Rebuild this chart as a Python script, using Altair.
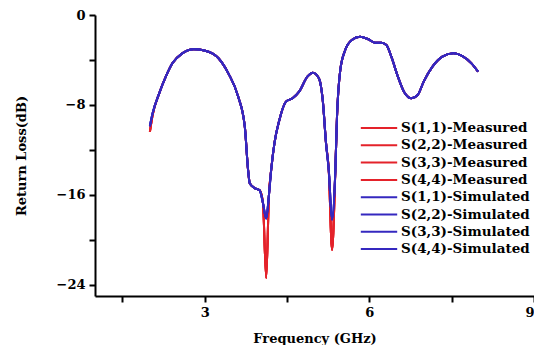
import altair as alt
import pandas as pd

# Frequency samples (GHz)
freq = [2.00, 2.05, 2.17, 2.29, 2.41, 2.59, 2.80, 3.01, 3.25, 3.43, 3.61, 3.73,
        3.79, 3.82, 3.91, 4.00, 4.06, 4.12, 4.17, 4.21, 4.27, 4.36, 4.48, 4.60,
        4.72, 4.87, 4.97, 5.08, 5.15, 5.21, 5.26, 5.32, 5.38, 5.41, 5.47, 5.56,
        5.68, 5.83, 5.98, 6.10, 6.22, 6.31, 6.40, 6.52, 6.63, 6.77, 6.88, 6.99,
        7.15, 7.33, 7.53, 7.71, 7.86, 7.98]

# Simulated return loss (dB)
sim_db = [-9.9, -8.75, -6.97, -5.49, -4.30, -3.41, -3.05, -3.18, -3.85, -5.19, -7.27, -9.94,
          -13.8, -14.97, -15.4, -15.6, -16.7, -18.1, -16.0, -13.8, -11.4, -9.34, -7.71, -7.41,
          -6.82, -5.49, -5.13, -5.63, -7.56, -11.4, -13.8, -18.2, -13.8, -9.05, -4.89, -3.11,
          -2.22, -1.93, -2.16, -2.46, -2.46, -2.67, -3.71, -5.49, -6.82, -7.41, -7.12, -5.93,
          -4.60, -3.71, -3.41, -3.71, -4.30, -5.04]

# Measured return loss (dB)
meas_db = [-10.4, -8.9, -6.97, -5.49, -4.30, -3.41, -3.05, -3.18, -3.85, -5.19, -7.27, -9.94,
           -13.8, -14.97, -15.4, -15.6, -16.7, -23.4, -16.0, -13.8, -11.4, -9.34, -7.71, -7.41,
           -6.82, -5.49, -5.13, -5.63, -7.56, -11.4, -13.8, -20.9, -13.8, -9.05, -4.89, -3.11,
           -2.22, -1.93, -2.16, -2.46, -2.46, -2.67, -3.71, -5.49, -6.82, -7.41, -7.12, -5.93,
           -4.60, -3.71, -3.41, -3.71, -4.30, -5.04]

ports = ["S(1,1)", "S(2,2)", "S(3,3)", "S(4,4)"]
measured_names = [p + "-Measured" for p in ports]
simulated_names = [p + "-Simulated" for p in ports]
series_order = measured_names + simulated_names
series_colors = ["#e4222a"] * 4 + ["#3528bf"] * 4

x_ticks = [1.5, 3, 4.5, 6, 7.5, 9]
y_ticks = [0, -4, -8, -12, -16, -20, -24]

rows_m, rows_s = [], []
for name in measured_names:
    for f, v in zip(freq, meas_db):
        rows_m.append({"f": f, "db": v, "series": name})
for name in simulated_names:
    for f, v in zip(freq, sim_db):
        rows_s.append({"f": f, "db": v, "series": name})
df_m = pd.DataFrame(rows_m)
df_s = pd.DataFrame(rows_s)

FONT = "DejaVu Serif"

x_enc = alt.X("f:Q", scale=alt.Scale(domain=[1, 9], nice=False, zero=False),
              axis=alt.Axis(title="Frequency (GHz)", values=x_ticks,
                            labelExpr="datum.value % 3 == 0 ? datum.label : ''",
                            grid=False, tickSize=6, tickWidth=2, domainWidth=2,
                            domainColor="black", tickColor="black",
                            labelFont=FONT, labelFontSize=13, labelFontWeight="bold",
                            labelColor="black", labelPadding=4, labelOverlap=False,
                            titleFont=FONT, titleFontSize=13, titleFontWeight="bold",
                            titleColor="black", titlePadding=13))
y_enc = alt.Y("db:Q", scale=alt.Scale(domain=[-25, 0], nice=False, zero=False),
              axis=alt.Axis(title="Return Loss(dB)", values=y_ticks,
                            labelExpr="datum.value % 8 == 0 ? datum.label : ''",
                            grid=False, tickSize=6, tickWidth=2, domainWidth=2,
                            domainColor="black", tickColor="black",
                            labelFont=FONT, labelFontSize=13, labelFontWeight="bold",
                            labelColor="black", labelPadding=4,
                            titleFont=FONT, titleFontSize=13, titleFontWeight="bold",
                            titleColor="black", titlePadding=28))
color_enc = alt.Color("series:N",
                      scale=alt.Scale(domain=series_order, range=series_colors),
                      sort=series_order,
                      legend=alt.Legend(title=None, orient="none", legendX=274, legendY=103,
                                        symbolType="M-2.1,0H2.1", symbolStrokeWidth=2,
                                        symbolSize=300, labelFont=FONT, labelFontSize=13.5,
                                        labelFontWeight="bold", labelColor="black",
                                        rowPadding=0.3, labelOffset=12))

meas = alt.Chart(df_m).mark_line(strokeWidth=2, interpolate="monotone").encode(
    x=x_enc, y=y_enc, color=color_enc, detail="series:N")
sim = alt.Chart(df_s).mark_line(strokeWidth=2, interpolate="monotone").encode(
    x=x_enc, y=y_enc, color=color_enc, detail="series:N")

chart = alt.layer(meas, sim).properties(
    width=439, height=281,
    autosize=alt.AutoSizeParams(type="none"),
    padding={"left": 87, "top": 7, "right": 0, "bottom": 49},
    background="white",
).configure_view(stroke=None)

chart.save("out.html", embed_options={"renderer": "svg", "actions": False})
